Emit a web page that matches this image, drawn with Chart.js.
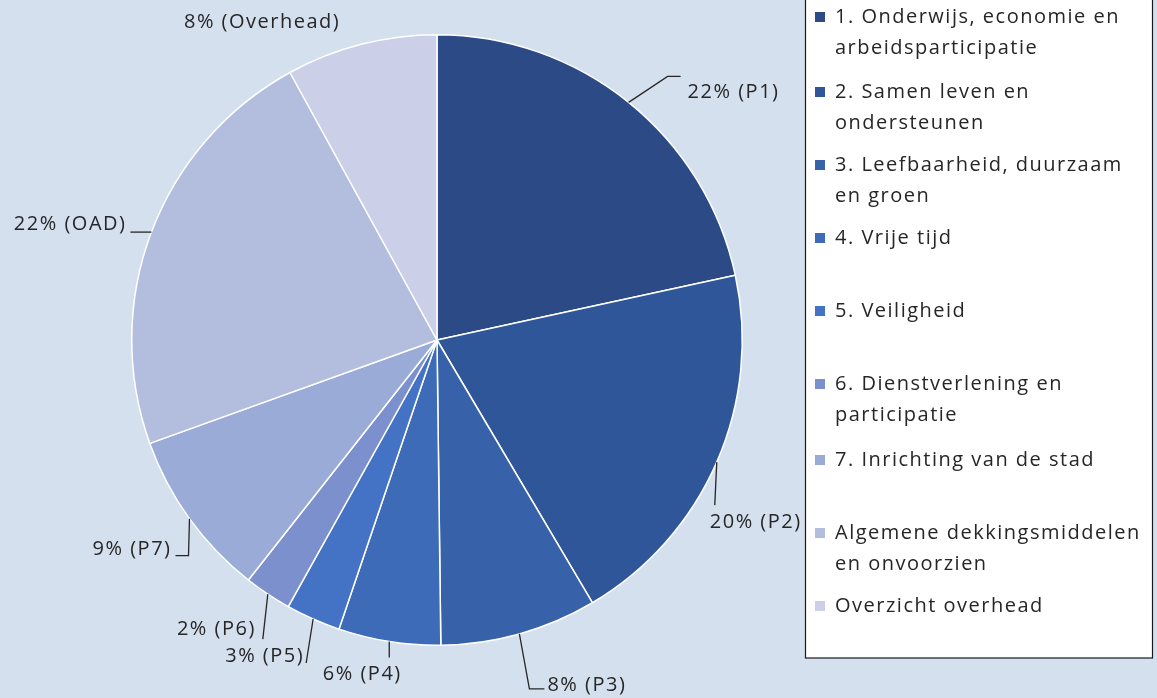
<!DOCTYPE html>
<html>
<head>
<meta charset="utf-8">
<script src="https://cdn.jsdelivr.net/npm/chart.js@4"></script>
<style>
  html, body { margin: 0; padding: 0; background: #d5e0ef; }
  #wrap { width: 1157px; height: 698px; position: relative; }
</style>
</head>
<body>
<div id="wrap"><canvas id="pie" width="1157" height="698"></canvas></div>
<script>
// categories (legend text, wrapped as in the picture)
const categories = [
    ['1. Onderwijs, economie en', 'arbeidsparticipatie'],
    ['2. Samen leven en', 'ondersteunen'],
    ['3. Leefbaarheid, duurzaam', 'en groen'],
    ['4. Vrije tijd'],
    ['5. Veiligheid'],
    ['6. Dienstverlening en', 'participatie'],
    ['7. Inrichting van de stad'],
    ['Algemene dekkingsmiddelen', 'en onvoorzien'],
    ['Overzicht overhead']
];
const shortNames = ['P1', 'P2', 'P3', 'P4', 'P5', 'P6', 'P7', 'OAD', 'Overhead'];
const shares = [21.6, 19.9, 8.3, 5.4, 2.9, 2.5, 8.9, 22.5, 8.0];
const percentLabels = ['22%', '20%', '8%', '6%', '3%', '2%', '9%', '22%', '8%'];
const colors = ['#2c4a85', '#30569a', '#3761a9', '#3e6bb8', '#4472c4',
                '#7b90cd', '#9aabd7', '#b3bede', '#cbd0e8'];

// label placement relative to the point on the rim at the middle of each slice
// text: [dx, dy, align], leader: list of [dx, dy] points after the rim point
const labelPlace = [
    {text: [59, -10, 'left'], leader: [[39, -26], [52, -26]]},
    {text: [-7, 60, 'left'], leader: [[-2, 43]]},
    {text: [28, 51, 'left'], leader: [[10, 55], [25, 55]]},
    {text: [-27, 33, 'center'], leader: [[0, 16]]},
    {text: [-9, 37, 'right'], leader: [[-7, 44]]},
    {text: [-12, 35, 'right'], leader: [[-5, 45]]},
    {text: [-18, 31, 'right'], leader: [[-1, 37], [-14, 37]]},
    {text: [-25, -8, 'right'], leader: [[-21, 0]]},
    {text: [-99, -22, 'center'], leader: []}
];

const pieLabels = {
    id: 'pieLabels',
    afterDatasetsDraw(chart) {
        const ctx = chart.ctx;
        const meta = chart.getDatasetMeta(0);
        ctx.save();
        ctx.font = '20px "Open Sans", sans-serif';
        ctx.letterSpacing = '1.5px';
        ctx.fillStyle = '#262626';
        ctx.strokeStyle = '#262626';
        ctx.lineWidth = 1.3;
        ctx.textBaseline = 'middle';
        meta.data.forEach((arc, i) => {
            const p = arc.getProps(['x', 'y', 'startAngle', 'endAngle', 'outerRadius'], true);
            const mid = (p.startAngle + p.endAngle) / 2;
            const ax = p.x + Math.cos(mid) * p.outerRadius;
            const ay = p.y + Math.sin(mid) * p.outerRadius;
            const pl = labelPlace[i];
            if (pl.leader.length) {
                ctx.beginPath();
                ctx.moveTo(ax, ay);
                pl.leader.forEach(pt => ctx.lineTo(ax + pt[0], ay + pt[1]));
                ctx.stroke();
            }
            ctx.textAlign = pl.text[2];
            ctx.fillText(percentLabels[i] + ' (' + shortNames[i] + ')', ax + pl.text[0], ay + pl.text[1]);
        });
        ctx.restore();
    }
};

const boxLegend = {
    id: 'boxLegend',
    afterDraw(chart) {
        const ctx = chart.ctx;
        const bx = 805.5, by = -1, bw = 347, bh = 659;
        ctx.save();
        ctx.fillStyle = '#ffffff';
        ctx.fillRect(bx, by, bw, bh);
        ctx.strokeStyle = '#1a1a1a';
        ctx.lineWidth = 1.2;
        ctx.strokeRect(bx, by, bw, bh);
        ctx.font = '20px "Open Sans", sans-serif';
        ctx.letterSpacing = '1.5px';
        ctx.textBaseline = 'middle';
        ctx.textAlign = 'left';
        const lineH = 31;
        const starts = [17, 92, 165, 238, 311, 384, 460, 533, 606];
        categories.forEach((lines, i) => {
            const y0 = starts[i];
            ctx.fillStyle = colors[i];
            ctx.fillRect(815, y0 - 5, 10, 10);
            ctx.fillStyle = '#262626';
            lines.forEach((t, j) => ctx.fillText(t, 835, y0 + j * lineH));
        });
        ctx.restore();
    }
};

new Chart(document.getElementById('pie'), {
    type: 'pie',
    data: {
        labels: shortNames,
        datasets: [{
            data: shares,
            backgroundColor: colors,
            borderColor: '#ffffff',
            borderWidth: 1.5
        }]
    },
    options: {
        responsive: false,
        animation: false,
        layout: {padding: {left: 131, right: 414, top: 34, bottom: 52}},
        plugins: {
            legend: {display: false},
            tooltip: {enabled: false}
        }
    },
    plugins: [pieLabels, boxLegend]
});
</script>
</body>
</html>
